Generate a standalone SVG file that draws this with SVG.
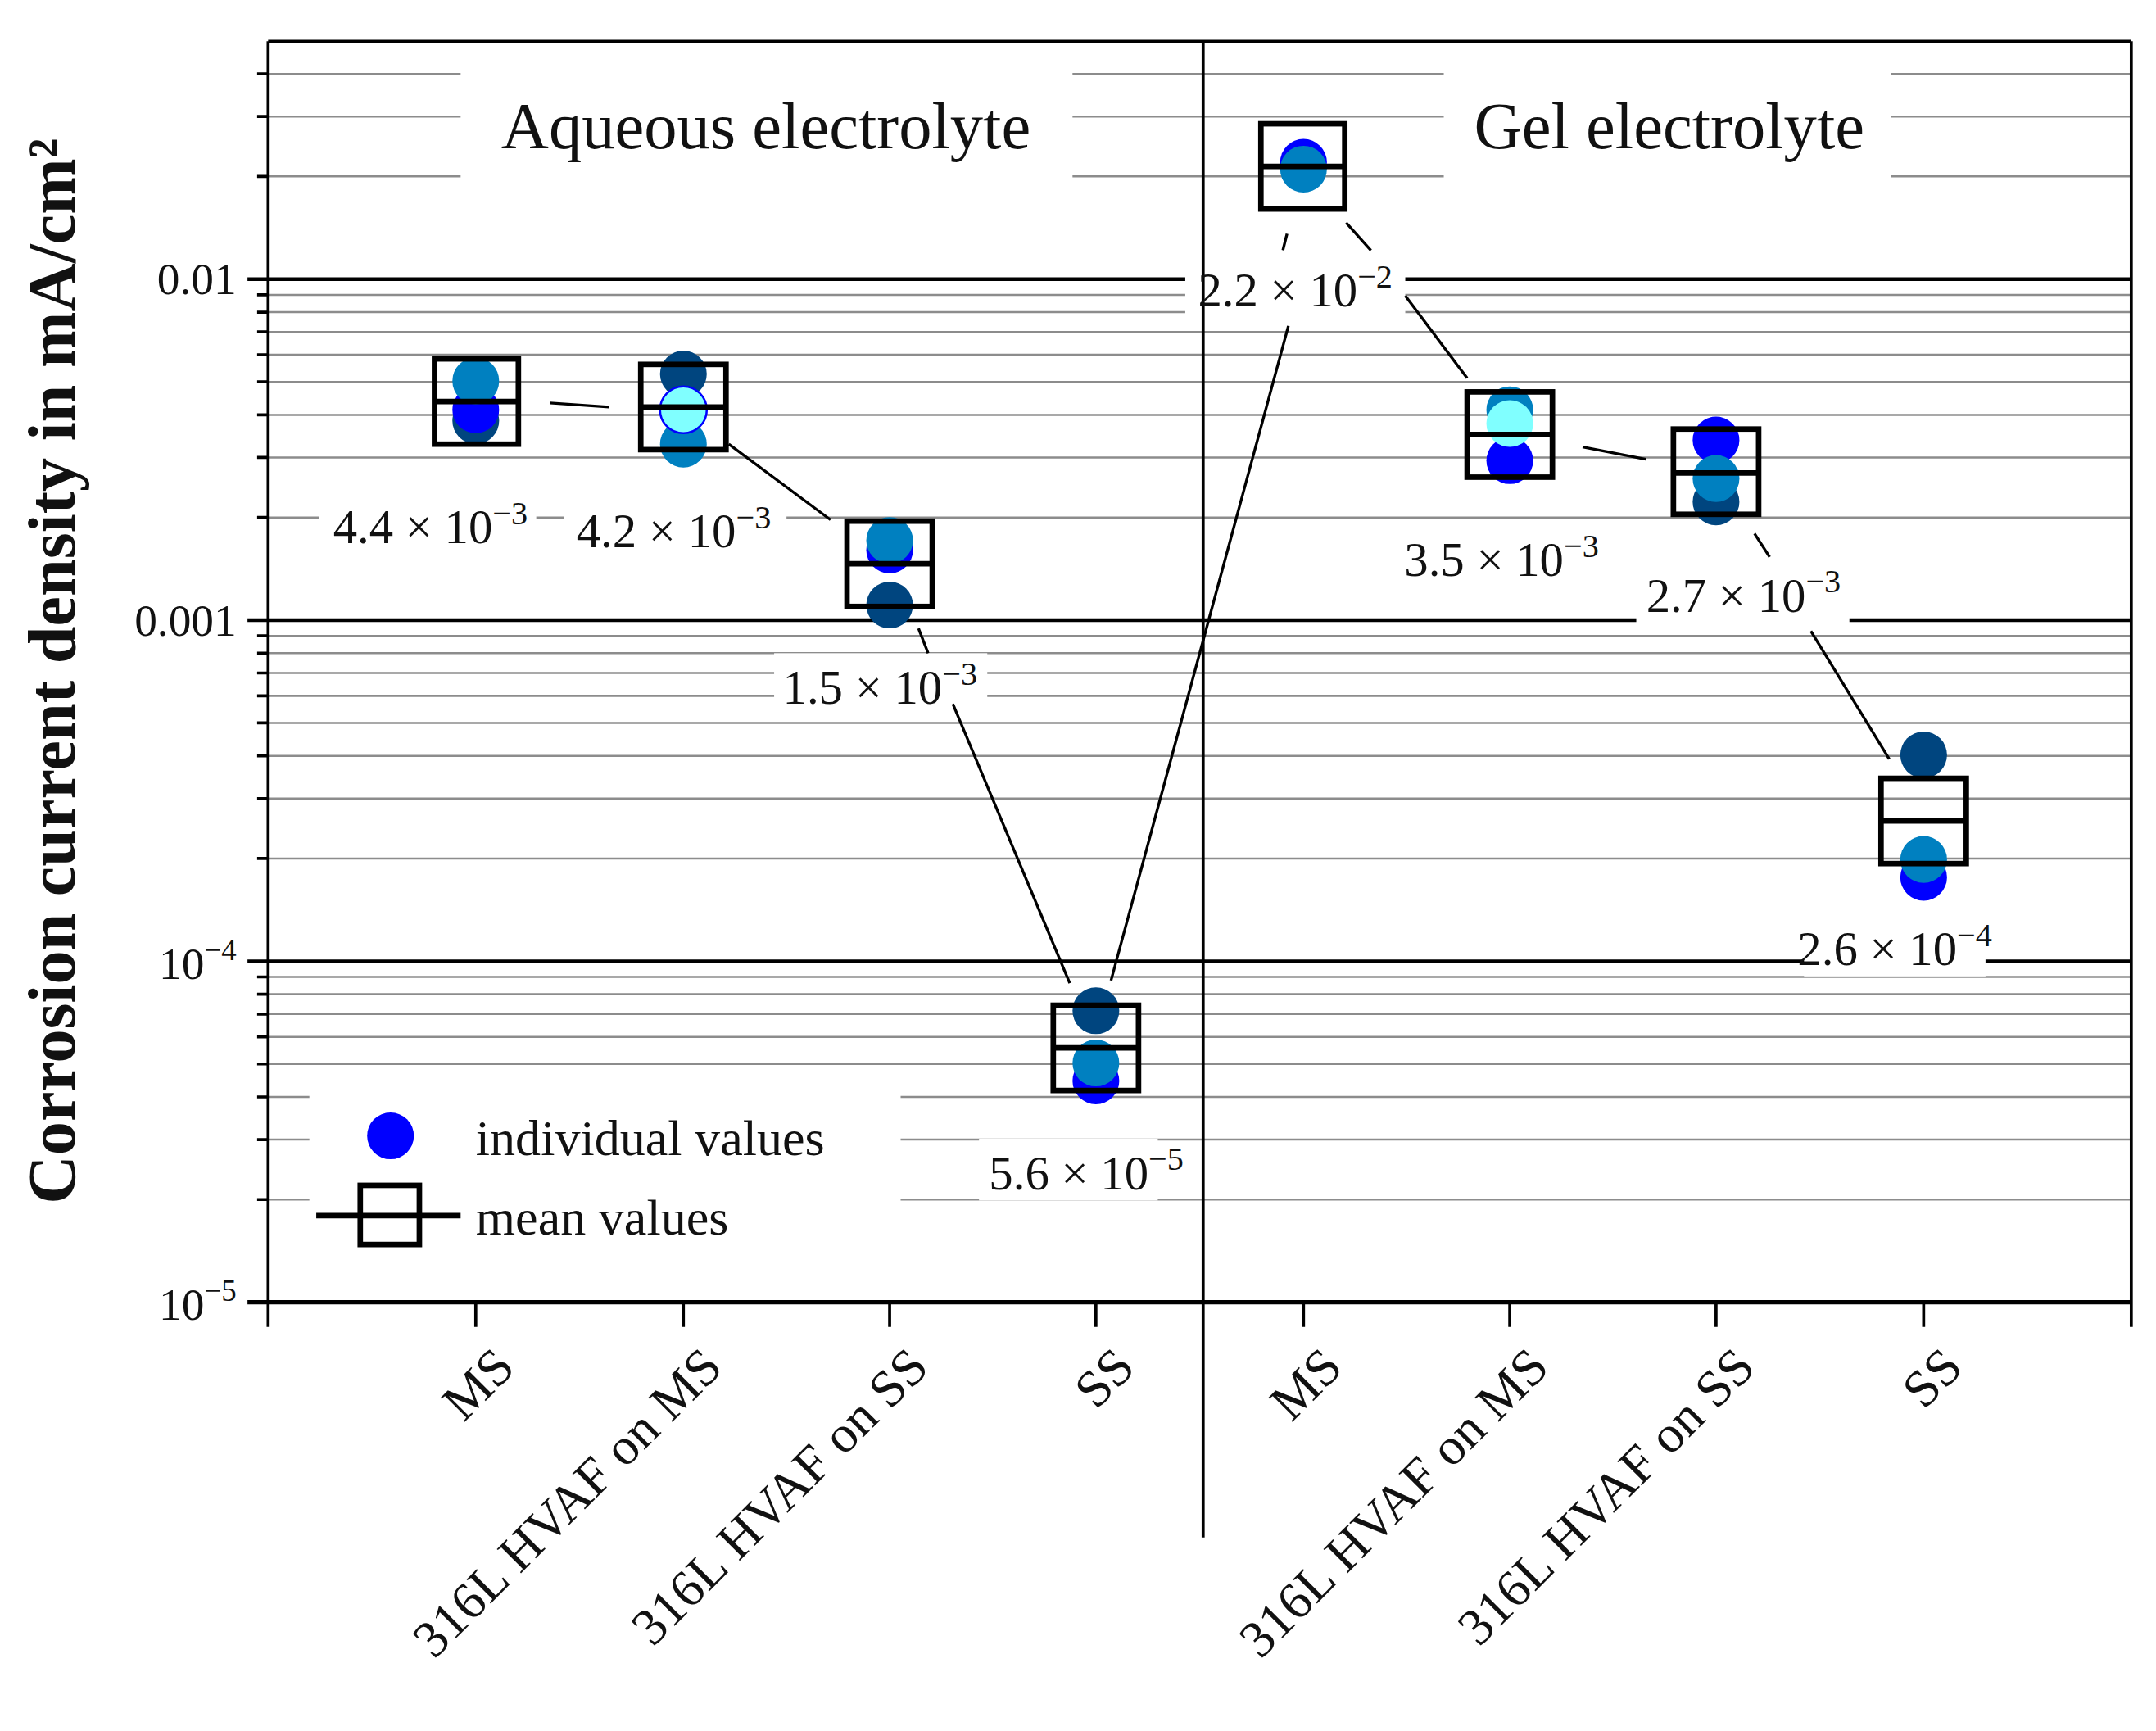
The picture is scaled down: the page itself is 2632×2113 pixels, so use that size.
<svg xmlns="http://www.w3.org/2000/svg" width="2632" height="2113" viewBox="0 0 2632 2113">
<style>
.g{stroke:#8c8c8c;stroke-width:1.5}
.d{stroke:#000;stroke-width:2.6}
.ax{stroke:#000;stroke-width:2.2;fill:none}
.c{stroke:#000;stroke-width:2;fill:none}
.bx{stroke:#000;stroke-width:4;fill:none}
.t{font-family:"Liberation Serif",serif;fill:#111}
.lb{font-family:"Liberation Serif",serif;font-size:35px;fill:#111;text-anchor:middle}
.xl{font-family:"Liberation Serif",serif;font-size:38px;fill:#111;text-anchor:end}
.w{fill:#fff}
</style>
<rect width="2632" height="2113" fill="#fff"/>
<g transform="scale(1.6786)">
<g id="grid">
<line class="g" x1="195" x2="1550" y1="53.7" y2="53.7"/>
<line class="g" x1="195" x2="1550" y1="84.7" y2="84.7"/>
<line class="g" x1="195" x2="1550" y1="128.3" y2="128.3"/>
<line class="g" x1="195" x2="1550" y1="214.4" y2="214.4"/>
<line class="g" x1="195" x2="1550" y1="227" y2="227"/>
<line class="g" x1="195" x2="1550" y1="241.4" y2="241.4"/>
<line class="g" x1="195" x2="1550" y1="258" y2="258"/>
<line class="g" x1="195" x2="1550" y1="277.7" y2="277.7"/>
<line class="g" x1="195" x2="1550" y1="301.7" y2="301.7"/>
<line class="g" x1="195" x2="1550" y1="332.7" y2="332.7"/>
<line class="g" x1="195" x2="1550" y1="376.3" y2="376.3"/>
<line class="g" x1="195" x2="1550" y1="462.4" y2="462.4"/>
<line class="g" x1="195" x2="1550" y1="475" y2="475"/>
<line class="g" x1="195" x2="1550" y1="489.4" y2="489.4"/>
<line class="g" x1="195" x2="1550" y1="506" y2="506"/>
<line class="g" x1="195" x2="1550" y1="525.7" y2="525.7"/>
<line class="g" x1="195" x2="1550" y1="549.7" y2="549.7"/>
<line class="g" x1="195" x2="1550" y1="580.7" y2="580.7"/>
<line class="g" x1="195" x2="1550" y1="624.3" y2="624.3"/>
<line class="g" x1="195" x2="1550" y1="710.4" y2="710.4"/>
<line class="g" x1="195" x2="1550" y1="723" y2="723"/>
<line class="g" x1="195" x2="1550" y1="737.4" y2="737.4"/>
<line class="g" x1="195" x2="1550" y1="754" y2="754"/>
<line class="g" x1="195" x2="1550" y1="773.7" y2="773.7"/>
<line class="g" x1="195" x2="1550" y1="797.7" y2="797.7"/>
<line class="g" x1="195" x2="1550" y1="828.7" y2="828.7"/>
<line class="g" x1="195" x2="1550" y1="872.3" y2="872.3"/>
<line class="d" x1="180" x2="1550" y1="203" y2="203"/>
<line class="d" x1="180" x2="1550" y1="451" y2="451"/>
<line class="d" x1="180" x2="1550" y1="699" y2="699"/>
</g>
<g id="masks">
<rect class="w" x="335" y="50" width="445" height="80"/>
<rect class="w" x="1050" y="50" width="325" height="80"/>
<rect class="w" x="225" y="790" width="430" height="118"/>
<rect class="w" x="232" y="360" width="158" height="42"/>
<rect class="w" x="410" y="362" width="162" height="42"/>
<rect class="w" x="563" y="475" width="155" height="45"/>
<rect class="w" x="712" y="828" width="130" height="45"/>
<rect class="w" x="862" y="188" width="160" height="44"/>
<rect class="w" x="1012" y="383" width="160" height="45"/>
<rect class="w" x="1190" y="408" width="155" height="48"/>
<rect class="w" x="1312" y="665" width="132" height="45"/>
</g>
<g id="axes">
<line class="ax" x1="195" y1="30" x2="1550" y2="30"/>
<line class="ax" x1="1550" y1="30" x2="1550" y2="965"/>
<line class="ax" x1="195" y1="30" x2="195" y2="965"/>
<line x1="180" y1="947" x2="1550" y2="947" stroke="#000" stroke-width="3"/>
<line class="ax" x1="875" y1="30" x2="875" y2="1118"/>
<path class="ax" d="M346 947V965M497 947V965M647 947V965M797 947V965M948 947V965M1098 947V965M1248 947V965M1399 947V965"/>
<path class="ax" d="M187 53.7H195M187 84.7H195M187 128.3H195M187 214.4H195M187 227H195M187 241.4H195M187 258H195M187 277.7H195M187 301.7H195M187 332.7H195M187 376.3H195M187 462.4H195M187 475H195M187 489.4H195M187 506H195M187 525.7H195M187 549.7H195M187 580.7H195M187 624.3H195M187 710.4H195M187 723H195M187 737.4H195M187 754H195M187 773.7H195M187 797.7H195M187 828.7H195M187 872.3H195"/>
<text class="t" font-size="33" text-anchor="end" x="172" y="214">0.01</text>
<text class="t" font-size="33" text-anchor="end" x="172" y="462">0.001</text>
<text class="t" font-size="33" text-anchor="end" x="172" y="712">10<tspan font-size="22" dy="-14">−4</tspan></text>
<text class="t" font-size="33" text-anchor="end" x="172" y="960">10<tspan font-size="22" dy="-14">−5</tspan></text>
<text class="t" font-size="49" font-weight="bold" text-anchor="middle" transform="translate(54,488) rotate(-90)">Corrosion current density in mA/cm²</text>
</g>
<g id="titles">
<text class="t" font-size="48" text-anchor="middle" x="557" y="108">Aqueous electrolyte</text>
<text class="t" font-size="48" text-anchor="middle" x="1214" y="108">Gel electrolyte</text>
</g>
<g id="connectors" class="c">
<line x1="400" y1="293" x2="443" y2="296"/>
<line x1="530" y1="323" x2="604" y2="378"/>
<line x1="668" y1="457" x2="675" y2="475"/>
<line x1="693" y1="512" x2="778" y2="715"/>
<line x1="808" y1="713" x2="937" y2="237"/>
<line x1="933" y1="182" x2="936" y2="170"/>
<line x1="979" y1="162" x2="997" y2="182"/>
<line x1="1022" y1="215" x2="1067" y2="275"/>
<line x1="1151" y1="325" x2="1197" y2="334"/>
<line x1="1276" y1="388" x2="1287" y2="405"/>
<line x1="1317" y1="459" x2="1374" y2="552"/>
</g>
<g id="n1"><circle cx="346" cy="306" r="17" fill="#00457f"/><circle cx="346" cy="298" r="17" fill="#0000ff"/><circle cx="346" cy="277" r="17" fill="#0080c0"/><rect class="bx" x="316" y="261" width="61" height="62"/><line class="bx" x1="316" x2="377" y1="292" y2="292"/></g>
<g id="n2"><circle cx="497" cy="272" r="17" fill="#00457f"/><circle cx="497" cy="323" r="17" fill="#0080c0"/><circle cx="497" cy="298" r="17" fill="#80ffff" stroke="#0000ff" stroke-width="1.5"/><rect class="bx" x="466" y="265" width="62" height="62"/><line class="bx" x1="466" x2="528" y1="296" y2="296"/></g>
<g id="n3"><circle cx="647" cy="440" r="17" fill="#00457f"/><circle cx="647" cy="400" r="17" fill="#0000ff"/><circle cx="647" cy="393" r="17" fill="#0080c0"/><rect class="bx" x="616" y="379" width="62" height="62"/><line class="bx" x1="616" x2="678" y1="410" y2="410"/></g>
<g id="n4"><circle cx="797" cy="786" r="17" fill="#0000ff"/><circle cx="797" cy="773" r="17" fill="#0080c0"/><circle cx="797" cy="735" r="17" fill="#00457f"/><rect class="bx" x="766" y="731" width="62" height="62"/><line class="bx" x1="766" x2="828" y1="762" y2="762"/></g>
<g id="n5"><circle cx="948" cy="118" r="17" fill="#0000ff"/><circle cx="948" cy="123" r="17" fill="#0080c0"/><rect class="bx" x="917" y="90" width="61" height="62"/><line class="bx" x1="917" x2="978" y1="121" y2="121"/></g>
<g id="n6"><circle cx="1098" cy="335" r="17" fill="#0000ff"/><circle cx="1098" cy="298" r="17" fill="#0080c0"/><circle cx="1098" cy="308" r="17" fill="#80ffff"/><rect class="bx" x="1067" y="285" width="62" height="62"/><line class="bx" x1="1067" x2="1129" y1="316" y2="316"/></g>
<g id="n7"><circle cx="1248" cy="365" r="17" fill="#00457f"/><circle cx="1248" cy="320" r="17" fill="#0000ff"/><circle cx="1248" cy="348" r="17" fill="#0080c0"/><rect class="bx" x="1217" y="312" width="62" height="62"/><line class="bx" x1="1217" x2="1279" y1="344" y2="344"/></g>
<g id="n8"><circle cx="1399" cy="549" r="17" fill="#00457f"/><circle cx="1399" cy="638" r="17" fill="#0000ff"/><circle cx="1399" cy="625" r="17" fill="#0080c0"/><rect class="bx" x="1368" y="566" width="62" height="62"/><line class="bx" x1="1368" x2="1430" y1="597" y2="597"/></g>
<g id="labels">
<text class="lb" x="313" y="395">4.4 × 10<tspan font-size="24" dy="-14">−3</tspan></text>
<text class="lb" x="490" y="398">4.2 × 10<tspan font-size="24" dy="-14">−3</tspan></text>
<text class="lb" x="640" y="512">1.5 × 10<tspan font-size="24" dy="-14">−3</tspan></text>
<text class="lb" x="790" y="865">5.6 × 10<tspan font-size="24" dy="-14">−5</tspan></text>
<text class="lb" x="942" y="223">2.2 × 10<tspan font-size="24" dy="-14">−2</tspan></text>
<text class="lb" x="1092" y="419">3.5 × 10<tspan font-size="24" dy="-14">−3</tspan></text>
<text class="lb" x="1268" y="445">2.7 × 10<tspan font-size="24" dy="-14">−3</tspan></text>
<text class="lb" x="1378" y="702">2.6 × 10<tspan font-size="24" dy="-14">−4</tspan></text>
</g>
<g id="legend">
<circle cx="284" cy="826" r="17" fill="#0000ff"/>
<text class="t" font-size="37" x="346" y="840">individual values</text>
<line class="bx" x1="230" x2="335" y1="884" y2="884"/>
<rect class="bx" x="262" y="862" width="43" height="43"/>
<text class="t" font-size="37" x="346" y="898">mean values</text>
</g>
<g id="xlabels">
<text class="xl" transform="translate(376,996) rotate(-45)">MS</text>
<text class="xl" transform="translate(527,996) rotate(-45)">316L HVAF on MS</text>
<text class="xl" transform="translate(677,996) rotate(-45)">316L HVAF on SS</text>
<text class="xl" transform="translate(827,996) rotate(-45)">SS</text>
<text class="xl" transform="translate(978,996) rotate(-45)">MS</text>
<text class="xl" transform="translate(1128,996) rotate(-45)">316L HVAF on MS</text>
<text class="xl" transform="translate(1278,996) rotate(-45)">316L HVAF on SS</text>
<text class="xl" transform="translate(1429,996) rotate(-45)">SS</text>
</g>
</g>
</svg>
